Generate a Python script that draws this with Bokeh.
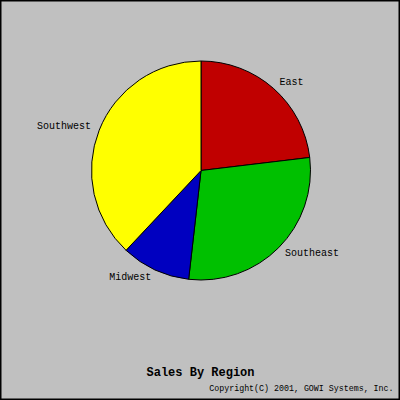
import math
from bokeh.plotting import figure
from bokeh.models import Range1d, ColumnDataSource
from bokeh.core.properties import value
from bokeh.embed import file_html
from bokeh.resources import INLINE

regions = ["East", "Southeast", "Midwest", "Southwest"]
sales = [23.1, 28.7, 10.2, 38.0]
colors = ["#C00000", "#00C000", "#0000C0", "#FFFF00"]
title = "Sales By Region"
copyright_text = "Copyright(C) 2001, GOWI Systems, Inc."

W, H = 400, 400
cx, cy, r = 200.5, H - 170, 109.5

total = sum(sales)
starts, ends, mids = [], [], []
a = math.pi / 2
for v in sales:
    span = v / total * 2 * math.pi
    starts.append(a)
    ends.append(a - span)
    mids.append(a - span / 2)
    a -= span

p = figure(width=W, height=H, x_range=Range1d(0, W), y_range=Range1d(0, H),
           output_backend="svg", toolbar_location=None, min_border=0)
p.axis.visible = False
p.grid.visible = False
p.background_fill_color = "#C0C0C0"
p.border_fill_color = "#C0C0C0"
p.outline_line_color = "black"
p.outline_line_width = 2

src = ColumnDataSource(dict(start=starts, end=ends, color=colors))
p.wedge(x=cx, y=cy, radius=r, start_angle="start", end_angle="end",
        direction="clock", fill_color="color", line_color="black",
        line_width=1, source=src)

lr = r * 1.08
lx = [cx + lr * math.cos(m) for m in mids]
ly = [cy + lr * math.sin(m) for m in mids]
align = ["left" if math.cos(m) >= 0 else "right" for m in mids]
lsrc = ColumnDataSource(dict(x=lx, y=ly, t=regions, align=align))
p.text(x="x", y="y", text="t", text_align="align", text_baseline="middle",
       text_font=value("Liberation Mono"), text_font_size="10px",
       text_color="black", source=lsrc)

p.text(x=[W / 2], y=[H - 372], text=[title], text_align="center",
       text_baseline="middle", text_font=value("Liberation Mono"),
       text_font_size="12px", text_font_style="bold", text_color="black")
p.text(x=[W - 7], y=[H - 388], text=[copyright_text], text_align="right",
       text_baseline="middle", text_font=value("Liberation Mono"),
       text_font_size="8.3px", text_color="black")

open("out.html", "w").write(file_html(p, INLINE))
